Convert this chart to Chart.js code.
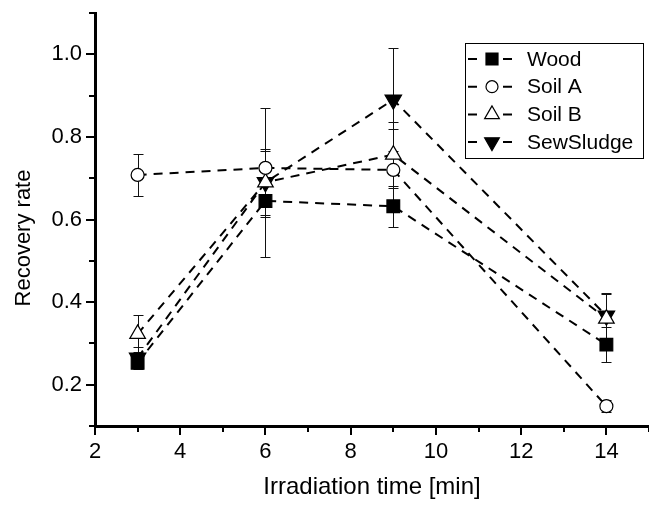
<!DOCTYPE html>
<html>
<head>
<meta charset="utf-8">
<script src="https://cdn.jsdelivr.net/npm/chart.js@4.4.1/dist/chart.umd.min.js"></script>
<style>
html, body { margin: 0; padding: 0; background: #fff; }
#wrap { width: 649px; height: 506px; position: relative; }
</style>
</head>
<body>
<div id="wrap"><canvas id="chart"></canvas></div>
<script>
// irradiation times (x) and recovery rates per sample
const times = [3, 6, 9, 14];
const seriesNames = ['Wood', 'Soil A', 'Soil B', 'SewSludge'];

const wood = [0.253, 0.645, 0.632, 0.297];
const woodErr = [0.012, 0.04, 0.05, 0.042];
const soilA = [0.708, 0.725, 0.72, 0.148];
const soilAErr = [0.05, 0.04, 0.1, 0.015];
const soilB = [0.323, 0.69, 0.757, 0.36];
const soilBErr = [0.045, 0.08, 0.08, 0.06];
const sewSludge = [0.265, 0.69, 0.89, 0.367];
const sewSludgeErr = [0.027, 0.18, 0.125, 0.056];

const errors = [woodErr, soilAErr, soilBErr, sewSludgeErr];

const xTitle = 'Irradiation time [min]';
const yTitle = 'Recovery rate';

const FONT = '"Liberation Sans", Arial, Helvetica, sans-serif';
Chart.defaults.font.family = FONT;
Chart.defaults.color = '#000';

const toPoints = vals => vals.map((v, i) => ({ x: times[i], y: v }));

function makeSeries(label, vals, style) {
    return Object.assign({
        label,
        data: toPoints(vals),
        borderColor: '#000',
        borderWidth: 2,
        borderDash: [9, 7],
        fill: false,
        tension: 0,
        pointBorderColor: '#000',
        pointBorderWidth: 1.2,
        pointHoverRadius: 0,
    }, style);
}

const datasets = [
    makeSeries(seriesNames[0], wood, { pointStyle: 'rect', pointRadius: 9, pointBackgroundColor: '#000' }),
    makeSeries(seriesNames[1], soilA, { pointStyle: 'circle', pointRadius: 6.5, pointBackgroundColor: '#fff' }),
    makeSeries(seriesNames[2], soilB, { pointStyle: 'triangle', pointRadius: 9, pointBackgroundColor: '#fff' }),
    makeSeries(seriesNames[3], sewSludge, { pointStyle: 'triangle', pointRotation: 180, pointRadius: 9.5, pointBackgroundColor: '#000' }),
];

// vertical error bars, drawn under the markers
const errorBars = {
    id: 'errorBars',
    beforeDatasetsDraw(chart) {
        const { ctx, scales: { x, y } } = chart;
        ctx.save();
        ctx.strokeStyle = '#111';
        ctx.lineWidth = 1;
        chart.data.datasets.forEach((ds, d) => {
            ds.data.forEach((pt, i) => {
                const e = errors[d][i];
                const px = Math.round(x.getPixelForValue(pt.x)) + 0.5;
                const top = Math.round(y.getPixelForValue(pt.y + e)) + 0.5;
                const bot = Math.round(y.getPixelForValue(pt.y - e)) + 0.5;
                ctx.beginPath();
                ctx.moveTo(px, top); ctx.lineTo(px, bot);
                ctx.moveTo(px - 5, top); ctx.lineTo(px + 5, top);
                ctx.moveTo(px - 5, bot); ctx.lineTo(px + 5, bot);
                ctx.stroke();
            });
        });
        ctx.restore();
    }
};

// outward major/minor tick marks + y axis title (sits a bit below centre in the original)
const tickMarks = {
    id: 'tickMarks',
    afterDraw(chart) {
        const { ctx, scales: { x, y } } = chart;
        ctx.save();
        ctx.strokeStyle = '#000';
        ctx.lineWidth = 2;
        ctx.beginPath();
        y.ticks.forEach(t => {
            const py = Math.round(y.getPixelForValue(t.value));
            const major = Math.round(t.value * 10) % 2 === 0;
            const len = major ? 8 : 5;
            ctx.moveTo(y.right - 1, py);
            ctx.lineTo(y.right - 1 - len, py);
        });
        x.ticks.forEach(t => {
            const px = Math.round(x.getPixelForValue(t.value));
            const major = Math.round(t.value) % 2 === 0;
            const len = major ? 8 : 5;
            ctx.moveTo(px, x.top + 1);
            ctx.lineTo(px, x.top + 1 + len);
        });
        ctx.stroke();

        ctx.translate(24, 238);
        ctx.rotate(-Math.PI / 2);
        ctx.font = '22px ' + FONT;
        ctx.fillStyle = '#000';
        ctx.textAlign = 'center';
        ctx.textBaseline = 'middle';
        ctx.fillText(yTitle, 0, 0);
        ctx.restore();
    }
};

// boxed legend in the upper right corner
const legendBox = {
    id: 'legendBox',
    afterDraw(chart) {
        const ctx = chart.ctx;
        ctx.save();
        ctx.strokeStyle = '#000';
        ctx.lineWidth = 1;
        ctx.strokeRect(465.5, 43.5, 178, 115);
        ctx.font = '21px ' + FONT;
        ctx.textBaseline = 'middle';
        ctx.fillStyle = '#000';
        chart.data.datasets.forEach((ds, i) => {
            const cy = 59 + i * 27.7;
            const cx = 492;
            ctx.lineWidth = 2;
            ctx.beginPath();
            ctx.moveTo(468, cy); ctx.lineTo(477, cy);
            ctx.moveTo(503, cy); ctx.lineTo(512, cy);
            ctx.stroke();
            ctx.lineWidth = 1.2;
            ctx.beginPath();
            if (ds.pointStyle === 'rect') {
                ctx.rect(cx - 6, cy - 6, 12, 12);
            } else if (ds.pointStyle === 'circle') {
                ctx.arc(cx, cy, 6, 0, Math.PI * 2);
            } else {
                const r = 8.5;
                const dir = ds.pointRotation === 180 ? 1 : -1;
                ctx.moveTo(cx, cy + dir * r);
                ctx.lineTo(cx - r * 0.866, cy - dir * r * 0.5);
                ctx.lineTo(cx + r * 0.866, cy - dir * r * 0.5);
                ctx.closePath();
            }
            ctx.fillStyle = ds.pointBackgroundColor;
            ctx.fill();
            ctx.stroke();
            ctx.fillStyle = '#000';
            ctx.fillText(ds.label, 527, cy + 1);
        });
        ctx.restore();
    }
};

new Chart(document.getElementById('chart'), {
    type: 'line',
    data: { datasets },
    options: {
        responsive: true,
        maintainAspectRatio: false,
        animation: false,
        layout: { autoPadding: false, padding: { top: 13, right: 0, left: 0, bottom: 0 } },
        plugins: { legend: { display: false }, tooltip: { enabled: false } },
        scales: {
            x: {
                type: 'linear',
                min: 2,
                max: 15,
                afterFit: s => { s.height = 80; s.paddingRight = 0; s.paddingLeft = 0; },
                ticks: {
                    stepSize: 1,
                    autoSkip: false,
                    maxRotation: 0,
                    padding: 13,
                    font: { size: 22 },
                    callback: v => (v % 2 === 0 ? v : ''),
                },
                grid: { display: false, drawTicks: false },
                border: { display: true, color: '#000', width: 3 },
                title: { display: true, text: xTitle, font: { size: 24 }, padding: { top: 4, bottom: 4 } },
            },
            y: {
                type: 'linear',
                min: 0.1,
                max: 1.1,
                afterFit: s => { s.width = 95; s.paddingTop = 0; s.paddingBottom = 0; },
                ticks: {
                    stepSize: 0.1,
                    autoSkip: false,
                    padding: 13,
                    font: { size: 22 },
                    callback: v => (Math.round(v * 10) % 2 === 0 ? v.toFixed(1) : ''),
                },
                grid: { display: false, drawTicks: false },
                border: { display: true, color: '#000', width: 3 },
                title: { display: false },
            },
        },
    },
    plugins: [errorBars, tickMarks, legendBox],
});
</script>
</body>
</html>
